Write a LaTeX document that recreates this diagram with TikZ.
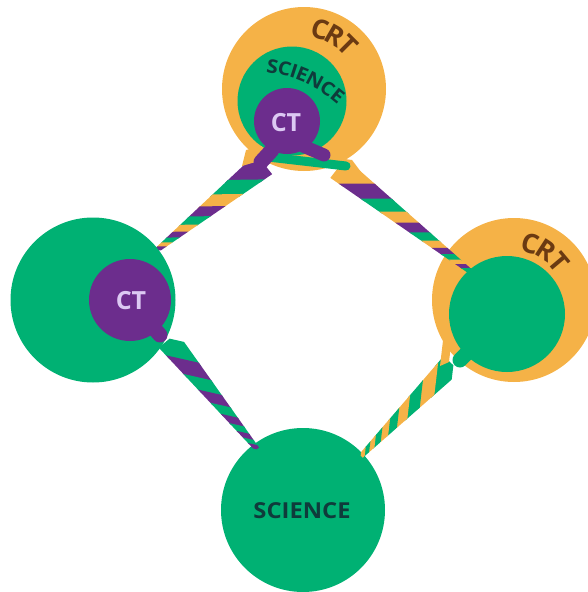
\documentclass[tikz,border=0pt]{standalone}
\usepackage{fontspec}
\usepackage{graphicx}
\setmainfont{Open Sans}
\usetikzlibrary{calc}
\definecolor{org}{HTML}{F5B247}
\definecolor{grn}{HTML}{00B173}
\definecolor{purp}{HTML}{6C2D8D}
\definecolor{crtc}{HTML}{6B3A12}
\definecolor{scic}{HTML}{0F3B3B}
\definecolor{ctc}{HTML}{DCC9F3}
\newcommand\ropedraw[9]{%
  \pgfmathsetmacro\rL{veclen(#3-#1,#4-#2)}%
  \pgfmathsetmacro\rux{(#3-#1)/\rL}%
  \pgfmathsetmacro\ruy{(#4-#2)/\rL}%
  \pgfmathsetmacro\rvx{-1*\ruy*(#8)}%
  \pgfmathsetmacro\rvy{\rux*(#8)}%
  \pgfmathsetmacro\rq{(#6/#5)^(1/(#7-1))}%
  \pgfmathsetmacro\rden{1-\rq^#7}%
  \pgfmathtruncatemacro\rn{#7-1}%
  \begin{scope}
  \clip (#1+#5/2*\rvx, #2+#5/2*\rvy) -- (#3+#6/2*\rvx, #4+#6/2*\rvy)
     -- (#3-#6/2*\rvx, #4-#6/2*\rvy) -- (#1-#5/2*\rvx, #2-#5/2*\rvy) -- cycle;
  \foreach \i in {0,...,\rn}{%
    \pgfmathsetmacro\rSa{\rL*(1-\rq^\i)/\rden}%
    \pgfmathsetmacro\rSb{\rL*(1-\rq^(\i+1))/\rden}%
    \pgfmathsetmacro\rM{(\rSa+\rSb)/2}%
    \pgfmathsetmacro\rD{\rSb-\rSa}%
    \pgfmathsetmacro\rW{#5+(#6-#5)*\rM/\rL}%
    \pgfmathsetmacro\rLW{\rD*sin(\ropeang)*1.2}%
    \pgfmathsetmacro\rH{\rW/2/sin(\ropeang)+\rLW}%
    \pgfmathsetmacro\rDX{cos(\ropeang)*\rux+sin(\ropeang)*\rvx}%
    \pgfmathsetmacro\rDY{cos(\ropeang)*\ruy+sin(\ropeang)*\rvy}%
    \pgfmathsetmacro\rCX{#1+\rM*\rux}%
    \pgfmathsetmacro\rCY{#2+\rM*\ruy}%
    \pgfmathtruncatemacro\rCI{mod(\i,#9)}%
    \draw[line width=\rLW pt, line cap=round, draw=rc\rCI]
      (\rCX-\rH*\rDX,\rCY-\rH*\rDY) -- (\rCX+\rH*\rDX,\rCY+\rH*\rDY);
  }%
  \end{scope}
}
\def\ropeang{38}
\begin{document}
\begin{tikzpicture}[x=1pt,y=-1pt,
  disc/.style={circle, inner sep=0pt, outer sep=0pt, minimum size=#1},
  tail/.style={line cap=round},
  ctlabel/.style={font=\bfseries\fontsize{25}{25}\selectfont, text=ctc, inner sep=0pt},
  crtlet/.style={font=\bfseries\fontsize{27}{27}\selectfont, text=crtc, inner sep=0pt},
  scilet/.style={font=\bfseries\fontsize{19}{19}\selectfont, text=scic, inner sep=0pt}]
\useasboundingbox (0,0) rectangle (588,592);
% orange circles
\node[disc=164pt, fill=org] (topO) at (304,89) {};
\node[disc=164pt, fill=org] (rightO) at (514,300) {};
% upper ropes
\colorlet{rc0}{purp}\colorlet{rc1}{grn}\colorlet{rc2}{org}
\ropedraw{264}{164}{157}{250}{26}{5}{10}{1}{3}
\colorlet{rc0}{org}\colorlet{rc1}{purp}\colorlet{rc2}{grn}
\ropedraw{338}{168}{471}{272}{25}{5}{12}{-1}{3}
% green circles
\node[disc=109pt, fill=grn] (topG) at (292,101) {};
\node[disc=116pt, fill=grn] (rightG) at (507,314) {};
\node[disc=165pt, fill=grn] (leftG) at (93,300) {};
\node[disc=164pt, fill=grn] (botG) at (303,510) {};
% purple circles
\node[disc=66pt, fill=purp] (topP) at (287,121) {};
\node[disc=82pt, fill=purp] (leftP) at (130,300) {};
% lower ropes
\colorlet{rc0}{grn}\colorlet{rc1}{purp}
\ropedraw{168}{340}{257}{449}{24}{5}{10}{-1}{2}
\colorlet{rc0}{grn}\colorlet{rc1}{org}
\ropedraw{452}{364}{361}{456}{23}{5}{10}{-1}{2}
% tails / knot
\fill[org] (246,150) -- (262,146) -- (262,160) -- (242,166) -- cycle;
\fill[org] (338,158) -- (352,160) -- (364,176) -- (350,176) -- cycle;
\draw[tail, grn, line width=9pt] (268,157) -- (346,166);
\draw[tail, purp, line width=15pt] (272,150) -- (261,162);
\draw[tail, purp, line width=13pt] (303,146) -- (324,155);
\draw[tail, purp, line width=15pt] (152,326) -- (160,335);
\fill[org] (444,332) -- (452,336) -- (449,362) -- (440,366) -- cycle;
\draw[tail, grn, line width=15pt] (468,352) -- (460,360);
% texts
\node[ctlabel] (ctTop) at (286,123) {CT};
\node[ctlabel] (ctLeft) at (131,301) {CT};
\node[font=\bfseries\fontsize{22}{22}\selectfont, text=scic, inner sep=0pt] (sciBot) at (302,511) {\scalebox{1.08}[1]{SCIENCE}};
\foreach \ang/\l [count=\k] in {75/C,60/R,45/T}
  \node[crtlet, rotate=\ang-90] (crtTop\k) at ($(304,89)+(-\ang:62)$) {\l};
\foreach \ang/\l [count=\k] in {74/C,57/R,40/T}
  \node[crtlet, rotate=\ang-90] (crtRight\k) at ($(514,300)+(-\ang:59)$) {\l};
\foreach \ang/\l [count=\k] in {81.1/S,75.9/C,71.8/I,68.0/E,62.1/N,55.9/C,50.7/E}
  \node[scilet, rotate=\ang-90] (sciTop\k) at ($(251.4,200.8)+(-\ang:136)$) {\scalebox{1.08}[1]{\l}};
\end{tikzpicture}
\end{document}
